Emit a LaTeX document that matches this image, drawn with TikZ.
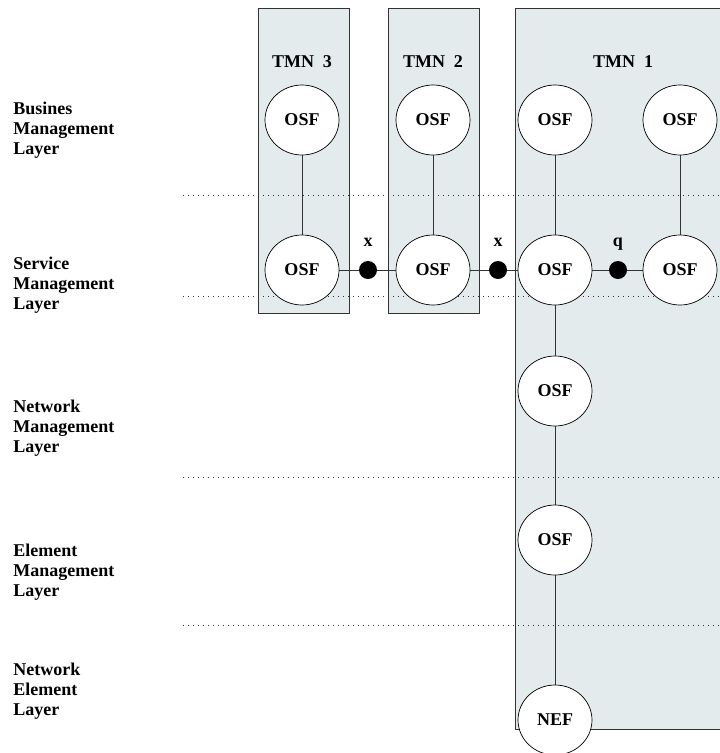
\documentclass[tikz,border=0pt]{standalone}
\usepackage{fontspec}
\setmainfont{Liberation Serif}
\usetikzlibrary{arrows,shapes.geometric,positioning}
\definecolor{tmnfill}{RGB}{228,235,237}

\begin{document}
\begin{tikzpicture}[x=1pt,y=-1pt,line width=0.7pt,
	font=\fontsize{18}{20}\selectfont\bfseries]
	\tikzstyle{osf}=[ellipse,draw,fill=white,minimum width=74pt,minimum height=70pt,inner sep=0pt]
	\tikzstyle{ifc}=[circle,fill=black,minimum size=18pt,inner sep=0pt]
	\tikzstyle{tmn}=[draw=black!80,fill=tmnfill,line width=0.9pt]
	\tikzstyle{sep}=[line width=0.8pt,dash pattern=on 0.8pt off 4.2pt,black!80]
	\tikzstyle{layer}=[align=left,anchor=base west,inner sep=0pt]
	\tikzstyle{link}=[draw=black!80]

	\useasboundingbox (0,0) rectangle (720,753);

	% TMN domains
	\draw[tmn] (258,8) rectangle (349,313);
	\draw[tmn] (388,8) rectangle (479,313);
	\draw[tmn] (515,8) rectangle (730,729);

	% layer borders
	\foreach \y in {195,296,477,625}
		\draw[sep] (183,\y) -- (720,\y);

	\node[anchor=base] (t3) at (302,67) {TMN\ \ 3};
	\node[anchor=base] (t2) at (433,67) {TMN\ \ 2};
	\node[anchor=base] (t1) at (623,67) {TMN\ \ 1};

	% anchor is the baseline of the last line
	\node[layer] (lbus) at (13,154) {Busines\\Management\\Layer};
	\node[layer] (lsrv) at (13,309) {Service\\Management\\Layer};
	\node[layer] (lnet) at (13,452) {Network\\Management\\Layer};
	\node[layer] (lele) at (13,596) {Element\\Management\\Layer};
	\node[layer] (lnel) at (13,715) {Network\\Element\\Layer};

	\node[osf] (b3) at (302,120) {OSF};
	\node[osf] (b2) at (433,120) {OSF};
	\node[osf] (b1) at (555,120) {OSF};
	\node[osf] (b0) at (680,120) {OSF};
	\node[osf] (s3) at (302,270) {OSF};
	\node[osf] (s2) at (433,270) {OSF};
	\node[osf] (s1) at (555,270) {OSF};
	\node[osf] (s0) at (680,270) {OSF};
	\node[osf] (n1) at (555,391) {OSF};
	\node[osf] (e1) at (555,540) {OSF};
	\node[osf] (ne) at (555,720) {NEF};

	\node[ifc] (x32) at (368,270) {};
	\node[ifc] (x21) at (498,270) {};
	\node[ifc] (q10) at (618,270) {};
	\node[anchor=base] (lx32) at (368,246) {x};
	\node[anchor=base] (lx21) at (498,246) {x};
	\node[anchor=base] (lq10) at (618,246) {q};

	\path[link] (b3) edge (s3);
	\path[link] (b2) edge (s2);
	\path[link] (b1) edge (s1);
	\path[link] (b0) edge (s0);
	\path[link] (s1) edge (n1);
	\path[link] (n1) edge (e1);
	\path[link] (e1) edge (ne);
	\path[link] (s3) edge (x32);
	\path[link] (x32) edge (s2);
	\path[link] (s2) edge (x21);
	\path[link] (x21) edge (s1);
	\path[link] (s1) edge (q10);
	\path[link] (q10) edge (s0);
\end{tikzpicture}
\end{document}
